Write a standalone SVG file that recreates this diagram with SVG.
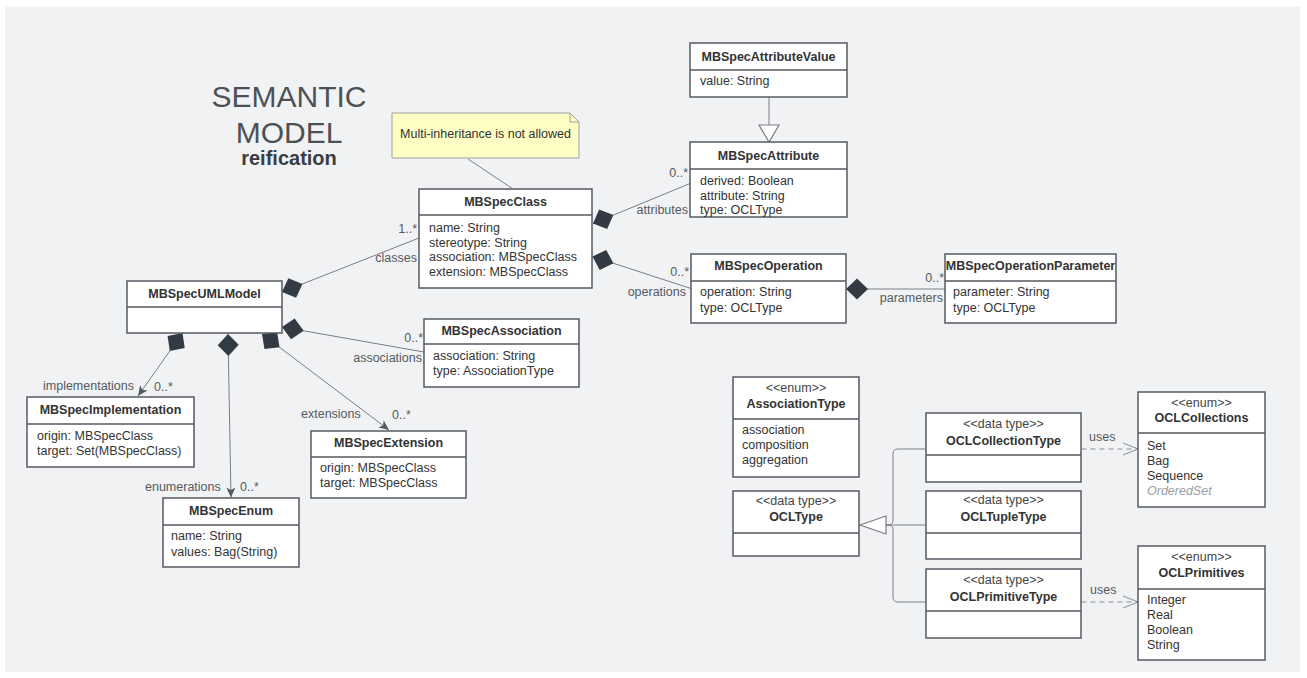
<svg xmlns="http://www.w3.org/2000/svg" width="1307" height="678" viewBox="0 0 1307 678">
  <style>
    .box { fill: #ffffff; stroke: #555a60; stroke-width: 1.5; }
    .sep { stroke: #555a60; stroke-width: 1.5; }
    .t { font-family: "Liberation Sans", Arial, sans-serif; font-size: 12.5px; fill: #333333; }
    .h { font-weight: bold; text-anchor: middle; fill: #333333; }
    .st { text-anchor: middle; font-size: 12.5px; fill: #444444; }
    .lbl { font-family: "Liberation Sans", Arial, sans-serif; font-size: 12.5px; fill: #555a60; }
    .end { text-anchor: end; }
    .conn { stroke: #7a7e84; stroke-width: 1; fill: none; }
    .dash { stroke: #8a8e94; stroke-width: 1; fill: none; stroke-dasharray: 5 4; }
    .gen { stroke: #7a7e84; stroke-width: 1.2; fill: #ffffff; }
  </style>
  <defs>
    <!-- filled composition diamond, tip sits on the owning class -->
    <marker id="dia" markerUnits="userSpaceOnUse" markerWidth="24" markerHeight="24" viewBox="0 0 24 24" refX="1" refY="12" orient="auto">
      <path d="M1,12 L12,1.5 L23,12 L12,22.5 z" fill="#323a44"/>
    </marker>
    <!-- navigable end arrow -->
    <marker id="arr" markerUnits="userSpaceOnUse" markerWidth="12" markerHeight="12" viewBox="0 0 12 12" refX="11" refY="6" orient="auto">
      <path d="M1,1.5 L11,6 L1,10.5 L3.5,6 z" fill="#555a60"/>
    </marker>
    <!-- open arrow for dependencies -->
    <marker id="open" markerUnits="userSpaceOnUse" markerWidth="18" markerHeight="16" viewBox="0 0 18 16" refX="16" refY="8" orient="auto">
      <path d="M1,2 L16,8 L1,14" fill="none" stroke="#8a8e94" stroke-width="1"/>
    </marker>
  </defs>

  <rect x="0" y="0" width="1307" height="678" fill="#ffffff"/>
  <rect x="5" y="7" width="1295" height="665" fill="#f1f2f4"/>

  <!-- title -->
  <g id="title" font-family="'Liberation Sans', Arial, sans-serif" text-anchor="middle">
    <text x="289" y="107" font-size="30" fill="#4d5156">SEMANTIC</text>
    <text x="289" y="143" font-size="30" fill="#4d5156">MODEL</text>
    <text x="289" y="165" font-size="20" font-weight="bold" fill="#3a3d42">reification</text>
  </g>

  <!-- connectors -->
  <g id="connectors">
    <line class="conn" x1="468" y1="159" x2="513" y2="189"/>
    <path class="conn" d="M282,292 L419,238" marker-start="url(#dia)"/>
    <path class="conn" d="M593,223.5 L690,183.5" marker-start="url(#dia)"/>
    <path class="conn" d="M592.5,256.5 L691,288.5" marker-start="url(#dia)"/>
    <path class="conn" d="M846,289 L945,289" marker-start="url(#dia)"/>
    <path class="conn" d="M282,327 L424,352" marker-start="url(#dia)"/>
    <path class="conn" d="M182.5,333 L138,396" marker-start="url(#dia)" marker-end="url(#arr)"/>
    <path class="conn" d="M228,334 L231,497.5" marker-start="url(#dia)" marker-end="url(#arr)"/>
    <path class="conn" d="M262,334 L389,430" marker-start="url(#dia)" marker-end="url(#arr)"/>
    <!-- generalization MBSpecAttribute -> MBSpecAttributeValue -->
    <line class="conn" x1="769" y1="97" x2="769" y2="125"/>
    <polygon class="gen" points="759,125 779,125 769,142"/>
    <!-- generalization of the OCL data types -->
    <path class="conn" d="M886,525 L925.5,525"/>
    <path class="conn" d="M886,525 L888,525 Q893,525 893,520 L893,454 Q893,449 898,449 L925.5,449"/>
    <path class="conn" d="M886,525 L888,525 Q893,525 893,530 L893,597 Q893,602 898,602 L925.5,602"/>
    <polygon class="gen" points="860,525 886,516 886,534"/>
    <!-- dependencies -->
    <path class="dash" d="M1081.5,449 L1138,449" marker-end="url(#open)"/>
    <path class="dash" d="M1081.5,602 L1138,602" marker-end="url(#open)"/>
    <!-- end labels -->
    <text class="lbl end" x="417" y="233">1..*</text>
    <text class="lbl end" x="417" y="262">classes</text>
    <text class="lbl end" x="688" y="177">0..*</text>
    <text class="lbl end" x="688" y="214">attributes</text>
    <text class="lbl end" x="689" y="276">0..*</text>
    <text class="lbl end" x="686" y="296">operations</text>
    <text class="lbl end" x="944" y="282">0..*</text>
    <text class="lbl end" x="943" y="302">parameters</text>
    <text class="lbl end" x="423" y="342">0..*</text>
    <text class="lbl end" x="422" y="362">associations</text>
    <text class="lbl" x="43" y="390">implementations</text>
    <text class="lbl" x="154" y="391">0..*</text>
    <text class="lbl" x="145" y="491">enumerations</text>
    <text class="lbl" x="240" y="491">0..*</text>
    <text class="lbl" x="301" y="418">extensions</text>
    <text class="lbl" x="392" y="419">0..*</text>
    <text class="lbl" x="1089" y="441">uses</text>
    <text class="lbl" x="1090" y="594">uses</text>
  </g>

  <!-- note -->
  <g id="note">
    <path d="M392,113 L570,113 L579,122 L579,158 L392,158 z" fill="#fdfdc4" stroke="#a0a0a0" stroke-width="1"/>
    <path d="M570,113 L570,122 L579,122" fill="none" stroke="#a0a0a0" stroke-width="1"/>
    <text class="t" x="485.5" y="138" text-anchor="middle" font-size="12" fill="#555555">Multi-inheritance is not allowed</text>
  </g>

  <g id="MBSpecAttributeValue" class="t">
    <rect class="box" x="690" y="43" width="157" height="54"/>
    <line class="sep" x1="690" y1="70" x2="847" y2="70"/>
    <text class="h" x="768.5" y="61">MBSpecAttributeValue</text>
    <text x="700" y="85">value: String</text>
  </g>

  <g id="MBSpecAttribute" class="t">
    <rect class="box" x="690" y="142" width="157" height="75"/>
    <line class="sep" x1="690" y1="169" x2="847" y2="169"/>
    <text class="h" x="768.5" y="160">MBSpecAttribute</text>
    <text x="700" y="185">derived: Boolean</text>
    <text x="700" y="199.5">attribute: String</text>
    <text x="700" y="214">type: OCLType</text>
  </g>

  <g id="MBSpecClass" class="t">
    <rect class="box" x="419" y="189" width="173" height="99"/>
    <line class="sep" x1="419" y1="215" x2="592" y2="215"/>
    <text class="h" x="505.5" y="206">MBSpecClass</text>
    <text x="429" y="232">name: String</text>
    <text x="429" y="246.5">stereotype: String</text>
    <text x="429" y="261">association: MBSpecClass</text>
    <text x="429" y="275.5">extension: MBSpecClass</text>
  </g>

  <g id="MBSpecOperation" class="t">
    <rect class="box" x="691" y="254" width="155" height="69"/>
    <line class="sep" x1="691" y1="281" x2="846" y2="281"/>
    <text class="h" x="768.5" y="270">MBSpecOperation</text>
    <text x="700" y="296">operation: String</text>
    <text x="700" y="311.5">type: OCLType</text>
  </g>

  <g id="MBSpecOperationParameter" class="t">
    <rect class="box" x="945" y="254" width="171" height="69"/>
    <line class="sep" x1="945" y1="281" x2="1116" y2="281"/>
    <text class="h" x="1030.5" y="270">MBSpecOperationParameter</text>
    <text x="953" y="296">parameter: String</text>
    <text x="953" y="311.5">type: OCLType</text>
  </g>

  <g id="MBSpecUMLModel" class="t">
    <rect class="box" x="127" y="281" width="155" height="52"/>
    <line class="sep" x1="127" y1="307" x2="282" y2="307"/>
    <text class="h" x="204.5" y="298">MBSpecUMLModel</text>
  </g>

  <g id="MBSpecAssociation" class="t">
    <rect class="box" x="424" y="319" width="155" height="68"/>
    <line class="sep" x1="424" y1="344" x2="579" y2="344"/>
    <text class="h" x="501.5" y="335">MBSpecAssociation</text>
    <text x="433" y="360">association: String</text>
    <text x="433" y="375">type: AssociationType</text>
  </g>

  <g id="MBSpecImplementation" class="t">
    <rect class="box" x="27" y="397" width="167" height="70"/>
    <line class="sep" x1="27" y1="424" x2="194" y2="424"/>
    <text class="h" x="110.5" y="414">MBSpecImplementation</text>
    <text x="37" y="440">origin: MBSpecClass</text>
    <text x="37" y="455">target: Set(MBSpecClass)</text>
  </g>

  <g id="MBSpecEnum" class="t">
    <rect class="box" x="163" y="498" width="136" height="69"/>
    <line class="sep" x1="163" y1="525" x2="299" y2="525"/>
    <text class="h" x="231" y="515">MBSpecEnum</text>
    <text x="171" y="540">name: String</text>
    <text x="171" y="555.5">values: Bag(String)</text>
  </g>

  <g id="MBSpecExtension" class="t">
    <rect class="box" x="311" y="431" width="155" height="67"/>
    <line class="sep" x1="311" y1="457" x2="466" y2="457"/>
    <text class="h" x="388.5" y="447">MBSpecExtension</text>
    <text x="320" y="472">origin: MBSpecClass</text>
    <text x="320" y="487">target: MBSpecClass</text>
  </g>

  <g id="AssociationType" class="t">
    <rect class="box" x="733" y="377" width="126" height="100"/>
    <line class="sep" x1="733" y1="419" x2="859" y2="419"/>
    <text class="st" x="796" y="392">&lt;&lt;enum&gt;&gt;</text>
    <text class="h" x="796" y="408">AssociationType</text>
    <text x="742" y="433.5">association</text>
    <text x="742" y="448.5">composition</text>
    <text x="742" y="463.5">aggregation</text>
  </g>

  <g id="OCLType" class="t">
    <rect class="box" x="733" y="491" width="126" height="65"/>
    <line class="sep" x1="733" y1="533" x2="859" y2="533"/>
    <text class="st" x="796" y="505">&lt;&lt;data type&gt;&gt;</text>
    <text class="h" x="796" y="521">OCLType</text>
  </g>

  <g id="OCLCollectionType" class="t">
    <rect class="box" x="926" y="413" width="155" height="69"/>
    <line class="sep" x1="926" y1="455" x2="1081" y2="455"/>
    <text class="st" x="1003.5" y="427.5">&lt;&lt;data type&gt;&gt;</text>
    <text class="h" x="1003.5" y="445">OCLCollectionType</text>
  </g>

  <g id="OCLTupleType" class="t">
    <rect class="box" x="926" y="491" width="155" height="68"/>
    <line class="sep" x1="926" y1="533" x2="1081" y2="533"/>
    <text class="st" x="1003.5" y="504">&lt;&lt;data type&gt;&gt;</text>
    <text class="h" x="1003.5" y="521">OCLTupleType</text>
  </g>

  <g id="OCLPrimitiveType" class="t">
    <rect class="box" x="926" y="569" width="155" height="69"/>
    <line class="sep" x1="926" y1="611" x2="1081" y2="611"/>
    <text class="st" x="1003.5" y="584">&lt;&lt;data type&gt;&gt;</text>
    <text class="h" x="1003.5" y="601">OCLPrimitiveType</text>
  </g>

  <g id="OCLCollections" class="t">
    <rect class="box" x="1138" y="392" width="127" height="115"/>
    <line class="sep" x1="1138" y1="433" x2="1265" y2="433"/>
    <text class="st" x="1201.5" y="407">&lt;&lt;enum&gt;&gt;</text>
    <text class="h" x="1201.5" y="422">OCLCollections</text>
    <text x="1147" y="449.5">Set</text>
    <text x="1147" y="464.5">Bag</text>
    <text x="1147" y="479.5">Sequence</text>
    <text x="1147" y="494.5" font-style="italic" fill="#9a9ea4">OrderedSet</text>
  </g>

  <g id="OCLPrimitives" class="t">
    <rect class="box" x="1138" y="546" width="127" height="114"/>
    <line class="sep" x1="1138" y1="589" x2="1265" y2="589"/>
    <text class="st" x="1201.5" y="561">&lt;&lt;enum&gt;&gt;</text>
    <text class="h" x="1201.5" y="577">OCLPrimitives</text>
    <text x="1147" y="603.5">Integer</text>
    <text x="1147" y="618.5">Real</text>
    <text x="1147" y="633.5">Boolean</text>
    <text x="1147" y="648.5">String</text>
  </g>
</svg>
